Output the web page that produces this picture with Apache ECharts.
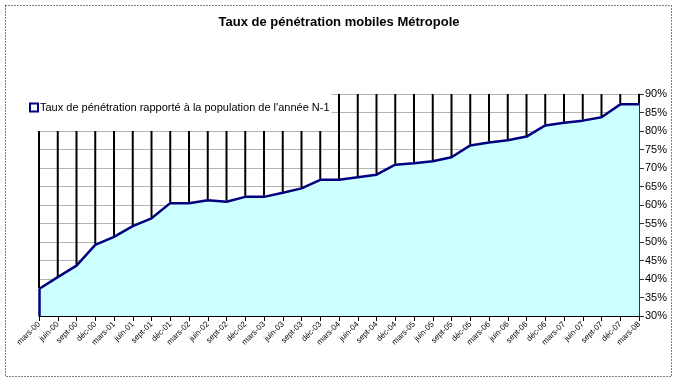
<!DOCTYPE html>
<html>
<head>
<meta charset="utf-8">
<script src="https://cdn.jsdelivr.net/npm/echarts@6/dist/echarts.min.js"></script>
<style>html,body{margin:0;padding:0;background:#fff}#c{width:678px;height:384px}</style>
</head>
<body>
<div id="c"></div>
<script>
var categories = ["mars-00","juin-00","sept-00","déc-00","mars-01","juin-01","sept-01","déc-01",
  "mars-02","juin-02","sept-02","déc-02","mars-03","juin-03","sept-03","déc-03",
  "mars-04","juin-04","sept-04","déc-04","mars-05","juin-05","sept-05","déc-05",
  "mars-06","juin-06","sept-06","déc-06","mars-07","juin-07","sept-07","déc-07","mars-08"];
var penetration = [37.3, 40.5, 43.6, 49.2, 51.4, 54.3, 56.4, 60.5,
  60.5, 61.3, 60.9, 62.2, 62.2, 63.3, 64.5, 66.8,
  66.8, 67.5, 68.2, 70.9, 71.3, 71.8, 72.9, 76.1,
  76.9, 77.5, 78.5, 81.5, 82.2, 82.8, 83.7, 87.2, 87.2];
var upper = [80,80,80,80,80,80,80,80,80,80,80,80,80,80,80,80,
  90,90,90,90,90,90,90,90,90,90,90,90,90,90,90,90,90];
var yMin = 30, yMax = 90, yStep = 5;
var seriesName = "Taux de pénétration rapporté à la population de l'année N-1";

var chart = echarts.init(document.getElementById('c'), null, {renderer: 'canvas'});
var hl = penetration.map(function (v, i) { return [i, v, upper[i]]; });

chart.setOption({
  animation: false,
  backgroundColor: '#fff',
  title: {
    text: 'Taux de pénétration mobiles Métropole',
    left: 'center', top: 16, padding: 0,
    textStyle: {fontFamily: 'Liberation Sans, Arial', fontSize: 13, fontWeight: 'bold', color: '#000'}
  },
  legend: {
    data: [seriesName],
    left: 20, top: 90,
    padding: [12, 2, 10, 9],
    backgroundColor: '#fff',
    itemWidth: 8, itemHeight: 8,
    icon: 'rect',
    itemStyle: {color: '#fff', borderColor: '#000080', borderWidth: 2},
    textStyle: {fontFamily: 'Liberation Sans, Arial', fontSize: 11, color: '#000', padding: [0, 0, 0, -3]}
  },
  graphic: [{
    type: 'rect', shape: {x: 5.5, y: 5.5, width: 666, height: 371},
    style: {fill: 'none', stroke: '#000', lineWidth: 1, lineDash: [1, 2]}, silent: true
  }],
  grid: {left: 39, right: 39, top: 94, bottom: 68},
  xAxis: {
    type: 'category', data: categories, boundaryGap: false,
    axisLine: {lineStyle: {color: '#000', width: 1}},
    axisTick: {show: true, length: 5, alignWithLabel: true, lineStyle: {color: '#000'}},
    axisLabel: {rotate: 45, interval: 0, fontFamily: 'Liberation Sans, Arial', fontSize: 8, color: '#000', margin: 7},
    splitLine: {show: false}
  },
  yAxis: {
    type: 'value', position: 'right', min: yMin, max: yMax, interval: yStep,
    axisLine: {show: true, lineStyle: {color: '#333'}},
    axisTick: {show: true, length: 5, lineStyle: {color: '#333'}},
    axisLabel: {formatter: '{value}%', fontFamily: 'Liberation Sans, Arial', fontSize: 11, color: '#000', margin: 6},
    splitLine: {show: true, lineStyle: {color: '#b4b4b4', width: 1}}
  },
  series: [{
    name: seriesName,
    type: 'line',
    data: penetration,
    symbol: 'none',
    z: 2,
    lineStyle: {color: '#000080', width: 2.5},
    itemStyle: {color: '#000080'},
    areaStyle: {color: '#CCFFFF', opacity: 1},
    markLine: {
      silent: true, symbol: 'none', label: {show: false},
      lineStyle: {color: '#000080', width: 2.5, type: 'solid'},
      data: [[{coord: [categories[0], yMin]}, {coord: [categories[0], penetration[0]]}]]
    }
  }, {
    name: 'hl',
    type: 'custom',
    data: hl,
    z: 3,
    silent: true,
    renderItem: function (params, api) {
      var a = api.coord([api.value(0), api.value(1)]);
      var b = api.coord([api.value(0), api.value(2)]);
      return {type: 'line', shape: {x1: a[0], y1: a[1] - 1, x2: b[0], y2: b[1]},
        style: {stroke: '#000', lineWidth: 2}};
    }
  }]
});
</script>
</body>
</html>
